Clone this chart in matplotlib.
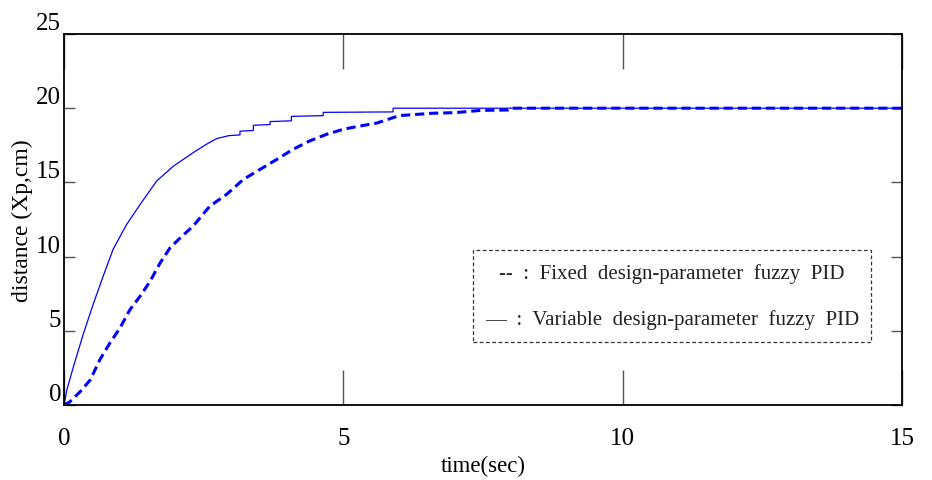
import matplotlib
matplotlib.use("Agg")
import matplotlib.pyplot as plt
from matplotlib.patches import Rectangle

# ---- data ----
t_variable = [0, 0.05, 0.17, 0.35, 0.53, 0.70, 0.88, 1.12, 1.36, 1.66, 1.96, 2.31, 2.55,
              2.73, 2.95, 3.15, 3.15, 3.39, 3.39, 3.69, 3.69, 4.07, 4.07, 4.64, 4.64,
              5.89, 5.89, 15.0]
y_variable = [0, 1.0, 2.6, 4.84, 6.87, 8.67, 10.5, 12.16, 13.5, 15.1, 16.1, 17.0, 17.57,
              17.95, 18.15, 18.2, 18.45, 18.5, 18.85, 18.9, 19.1, 19.15, 19.45, 19.5,
              19.72, 19.75, 20.0, 20.0]

t_fixed = [0, 0.1, 0.29, 0.47, 0.64, 0.82, 1.0, 1.18, 1.36, 1.54, 1.72, 1.90, 2.08, 2.31,
           2.61, 2.91, 3.21, 3.51, 3.81, 4.10, 4.40, 4.70, 5.0, 5.24, 5.6, 6.0, 6.6,
           7.0, 7.45, 7.95, 8.0, 15.0]
y_fixed = [0, 0.2, 0.9, 1.69, 3.04, 4.17, 5.18, 6.42, 7.32, 8.33, 9.57, 10.6, 11.26, 12.05,
           13.4, 14.19, 15.2, 15.88, 16.55, 17.23, 17.8, 18.24, 18.58, 18.76, 19.0, 19.5,
           19.66, 19.7, 19.85, 19.88, 20.0, 20.0]

x_ticks = [0, 5, 10, 15]
y_ticks = [0, 5, 10, 15, 20, 25]
legend_lines = ["--  :  Fixed  design-parameter  fuzzy  PID",
                "\u2014  :  Variable  design-parameter  fuzzy  PID"]

serif = ["Liberation Serif", "DejaVu Serif"]
plt.rcParams["font.family"] = serif

fig = plt.figure(figsize=(9.32, 4.81), dpi=100)
ax = fig.add_axes([64/932, 75/481, 838/932, 371/481])

ax.plot(t_variable, y_variable, color="#0000ff", lw=0.9, solid_joinstyle="miter")
ax.plot(t_fixed, y_fixed, color="#0000ff", lw=2.2, ls=(0, (3.0, 1.6)))

ax.set_xlim(0, 15)
ax.set_ylim(0, 25)
ax.set_xticks(x_ticks)
ax.set_yticks(y_ticks)
ax.tick_params(axis="x", direction="in", length=25, width=1, color="#555555",
               top=True, pad=16, labelsize=18)
ax.tick_params(axis="y", direction="in", length=8, width=1, color="#555555",
               right=True, pad=2, labelsize=18)
for lab in ax.get_yticklabels():
    lab.set_verticalalignment("bottom")

for s in ax.spines.values():
    s.set_linewidth(1.3)
    s.set_color("black")

ax.set_xlabel("time(sec)", fontsize=16.5, labelpad=4)
ax.set_ylabel("distance (Xp,cm)", fontsize=17, labelpad=2)

# legend box (dashed frame with text)
x0, x1 = (473-64)/838, (871-64)/838
y0, y1 = (406-343)/371, (406-251)/371
ax.add_patch(Rectangle((x0, y0), x1-x0, y1-y0, transform=ax.transAxes, fill=False,
                       ls=(0, (3, 2)), lw=0.9, edgecolor="#333333"))
xc = (x0 + x1) / 2
ax.text(xc, (406-274)/371, legend_lines[0], transform=ax.transAxes, ha="center",
        va="center", fontsize=15, color="#222222")
ax.text(xc, (406-320)/371, legend_lines[1], transform=ax.transAxes, ha="center",
        va="center", fontsize=15, color="#222222")

fig.savefig("out.png", dpi=100)
